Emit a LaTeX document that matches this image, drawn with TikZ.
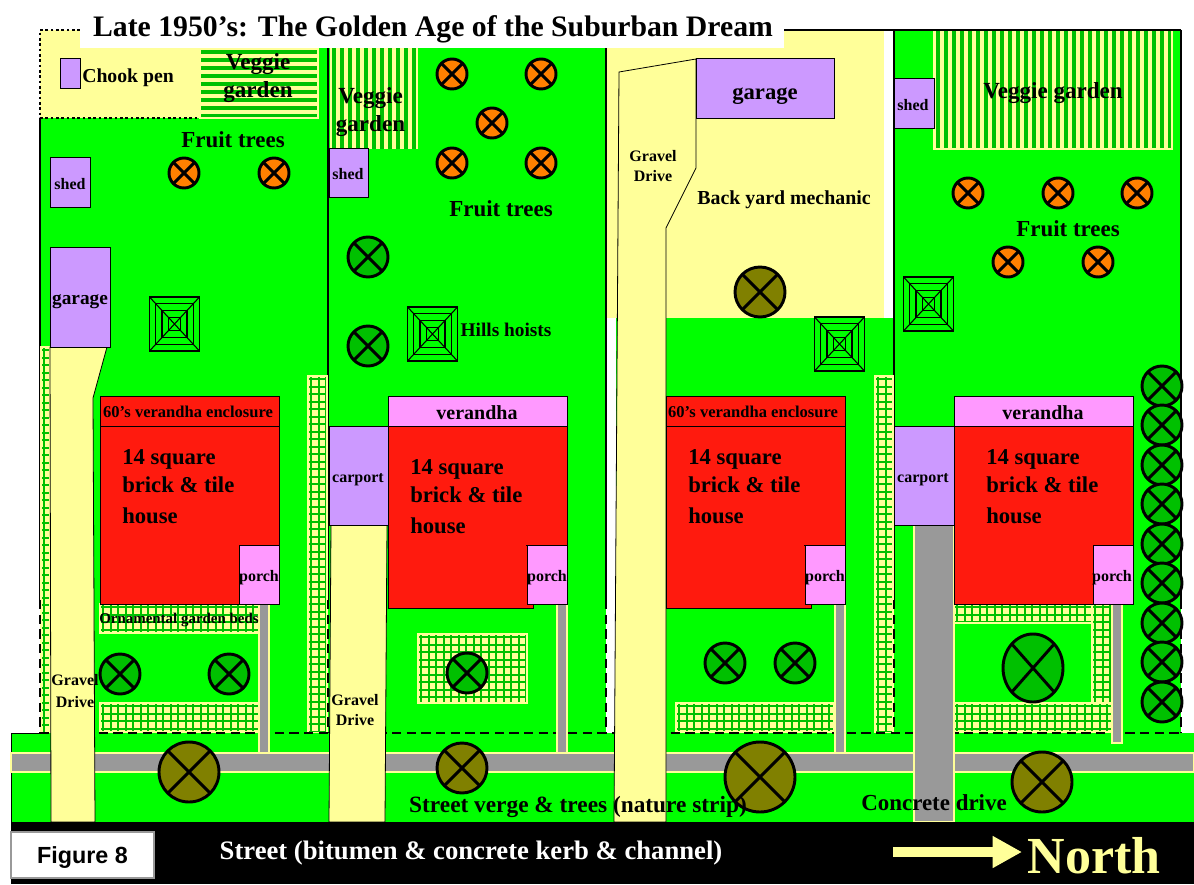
\documentclass[tikz,border=0pt]{standalone}
\usepackage{fontspec}
\setmainfont{Liberation Serif}
\newfontfamily\figfont{Liberation Sans}
\usetikzlibrary{arrows.meta}
\definecolor{lawnG}{RGB}{0,255,0}
\definecolor{treeG}{RGB}{0,192,0}
\definecolor{fruitO}{RGB}{255,128,0}
\definecolor{oakOl}{RGB}{128,128,0}
\definecolor{paleY}{RGB}{255,255,153}
\definecolor{brickR}{RGB}{255,26,14}
\definecolor{shedP}{RGB}{204,153,255}
\definecolor{vergP}{RGB}{255,153,255}
\definecolor{pathG}{RGB}{153,153,153}
\newcommand{\bedgrid}[4]{
  \fill[paleY] (#1,#2) rectangle (#3,#4);
  \begin{scope}
    \clip (#1,#2) rectangle (#3,#4);
    \foreach \gx in {3,10.5,...,200} {\draw[treeG,line width=1.5pt] ({#1+\gx},#2) -- ({#1+\gx},#4);}
    \foreach \gy in {3,10.5,...,380} {\draw[treeG,line width=1.5pt] (#1,{#2+\gy}) -- (#3,{#2+\gy});}
  \end{scope}
  \draw[paleY,line width=0.8pt] (#1,#2) rectangle (#3,#4);
}
\begin{document}
\begin{tikzpicture}[x=0.75pt,y=-0.75pt]
  \tikzset{lbl/.style={font=\bfseries\fontsize{#1}{#1}\selectfont,inner sep=0pt,text=black,align=center}}
  \tikzset{lblL/.style={lbl=#1,anchor=west}}
  \tikzset{hut/.style={draw=black,line width=0.75pt,fill=#1}}
  \tikzset{walk/.style={fill=pathG,draw=paleY,line width=0.8pt}}
  \tikzset{drive/.style={fill=paleY,draw=black,line width=0.6pt}}
  \tikzset{fence/.style={black,line width=2pt}}
  \tikzset{fenceD/.style={black,line width=2pt,dash pattern=on 7pt off 4pt}}
  \useasboundingbox (0,0) rectangle (1194,884);
  \fill[white] (0,0) rectangle (1194,884);
  \fill[lawnG] (40,30) rectangle (606,733);
  \fill[paleY] (606,30) rectangle (884,318);
  \fill[lawnG] (616,318) rectangle (1181,733);
  \fill[lawnG] (894,30) rectangle (1181,733);
  \fill[paleY] (40,30) rectangle (200,118);
  \draw[black,line width=1.8pt,dash pattern=on 2pt off 2pt] (80,30) -- (40,30) -- (40,118) -- (200,118) -- (200,48);
  \begin{scope}
    \clip (200,48) rectangle (318,118);
    \fill[paleY] (200,48) rectangle (318,118);
    \foreach \gy in {52,60,...,116} {\draw[treeG,line width=3pt] (200,\gy) -- (318,\gy);}
  \end{scope}
  \draw[paleY,line width=0.8pt] (200,48) rectangle (318,118);
  \begin{scope}
    \clip (330,48) rectangle (418,149);
    \fill[paleY] (330,48) rectangle (418,149);
    \foreach \gx in {334,342,...,416} {\draw[treeG,line width=3pt] (\gx,48) -- (\gx,149);}
  \end{scope}
  \begin{scope}
    \clip (934,30) rectangle (1172,149);
    \fill[paleY] (934,30) rectangle (1172,149);
    \foreach \gx in {938,946,...,1170} {\draw[treeG,line width=3pt] (\gx,30) -- (\gx,149);}
  \end{scope}
  \draw[paleY,line width=0.8pt] (934,30) rectangle (1172,149);
  \draw[fence] (40,118) -- (40,600);
  \draw[fence] (328,48) -- (328,600);
  \draw[fence] (606,48) -- (606,600);
  \draw[fence] (894,30) -- (894,600);
  \draw[fence] (1181,30) -- (1181,600);
  \draw[fence] (784,30) -- (1181,30);
  \bedgrid{41}{347}{50}{733}
  \bedgrid{308}{376}{327}{733}
  \bedgrid{875}{376}{893}{733}
  \bedgrid{100}{604}{259}{633}
  \bedgrid{100}{703}{259}{732}
  \bedgrid{418}{634}{527}{703}
  \bedgrid{676}{703}{834}{732}
  \bedgrid{954}{604}{1112}{623}
  \bedgrid{1092}{604}{1112}{733}
  \bedgrid{954}{703}{1112}{732}
  \foreach \gx in {40,328,606,894,1181} {\draw[fenceD] (\gx,600) -- (\gx,733);}
  \fill[lawnG] (11,733) rectangle (1194,822);
  \draw[black,line width=0.5pt] (11,822) -- (11,733) -- (40,733);
  \draw[fenceD] (40,733) -- (1181,733);
  \draw[walk] (11,753) rectangle (1194,772);
  \draw[walk] (259,604) rectangle (269,753);
  \draw[walk] (557,604) rectangle (567,753);
  \draw[walk] (835,604) rectangle (845,753);
  \draw[walk] (1112,604) rectangle (1122,743);
  \draw[walk] (914,525) rectangle (954,822);
  \draw[drive] (50,347) -- (107,347) -- (93,398) -- (95,822) -- (51,822) -- cycle;
  \draw[drive] (331,525) -- (387,525) -- (385,822) -- (329,822) -- cycle;
  \draw[drive] (619,72) -- (696,59) -- (696,168) -- (666,228) -- (666,822) -- (614,822) -- cycle;
  \fill[black] (11,822) rectangle (1194,884);
  \draw[hut=shedP] (60,59) rectangle (80,89);
  \draw[hut=shedP] (50,158) rectangle (90,208);
  \draw[hut=shedP] (50,247) rectangle (110,347);
  \draw[hut=shedP] (329,149) rectangle (368,198);
  \draw[hut=shedP] (696,59) rectangle (834,119);
  \draw[hut=shedP] (894,79) rectangle (934,129);
  \draw[hut=shedP] (329,426) rectangle (388,525);
  \draw[hut=shedP] (894,426) rectangle (954,525);
  \foreach \hx/\hxb/\hc in {100/279/brickR,388/567/vergP,666/845/brickR,954/1133/vergP} {
    \draw[hut=brickR] (\hx,426) rectangle (\hxb,604);
    \draw[hut=\hc] (\hx,396) rectangle (\hxb,426);
    \draw[hut=vergP] ({\hxb-40},545) rectangle (\hxb,604);
  }
  \draw[hut=brickR] (388,545) rectangle (533,608);
  \draw[hut=brickR] (666,545) rectangle (811,608);
  \fill[brickR] (389,540) rectangle (526,607);
  \fill[brickR] (667,540) rectangle (804,607);
  \draw[hut=vergP] (527,545) rectangle (567,604);
  \draw[hut=vergP] (805,545) rectangle (845,604);
  \foreach \hx/\hy in {174.5/324,432.5/334,839.5/344,928.5/304} {
    \foreach \hs in {1,0.75,0.5,0.25} {
      \draw[black,line width=0.8pt] ({\hx-25*\hs},{\hy-27*\hs}) rectangle ({\hx+25*\hs},{\hy+27*\hs});
    }
    \draw[black,line width=0.8pt] (\hx-25,\hy-27) -- (\hx+25,\hy+27);
    \draw[black,line width=0.8pt] (\hx-25,\hy+27) -- (\hx+25,\hy-27);
  }
  \node[lbl=12] (driveA) at (75,691) {Gravel\\[4pt]Drive};
  \foreach \tx/\ty/\rx/\ry/\tc in {
    184/173/15/15/fruitO,274/173/15/15/fruitO,
    452/74/15/15/fruitO,541/74/15/15/fruitO,492/123/15/15/fruitO,452/163/15/15/fruitO,541/163/15/15/fruitO,
    968/193/15/15/fruitO,1058/193/15/15/fruitO,1137/193/15/15/fruitO,1008/262/15/15/fruitO,1098/262/15/15/fruitO,
    368/257/20/20/treeG,368/346/20/20/treeG,120/674/20/20/treeG,229/674/20/20/treeG,467/673/20/20/treeG,
    725/663/20/20/treeG,795/663/20/20/treeG,1033/668/30/34/treeG,
    1162/386/20/20/treeG,1162/425/20/20/treeG,1162/465/20/20/treeG,1162/504/20/20/treeG,1162/544/20/20/treeG,
    1162/583/20/20/treeG,1162/623/20/20/treeG,1162/662/20/20/treeG,1162/702/20/20/treeG,
    189/772/30/30/oakOl,462/768/25/25/oakOl,760/777/35/35/oakOl,1042/782/30/30/oakOl,760/292/25/25/oakOl} {
    \draw[black,line width=2.2pt,fill=\tc] (\tx,\ty) ellipse [x radius=\rx,y radius=\ry];
    \draw[black,line width=2.2pt] ({\tx-0.72*\rx},{\ty-0.72*\ry}) -- ({\tx+0.72*\rx},{\ty+0.72*\ry});
    \draw[black,line width=2.2pt] ({\tx-0.72*\rx},{\ty+0.72*\ry}) -- ({\tx+0.72*\rx},{\ty-0.72*\ry});
  }
  \fill[white] (80,4) rectangle (784,48);
  \node[lbl=22.3] (title) at (433,29) {Late 1950’s: The Golden Age of the Suburban Dream};
  \node[lblL=14.8] (chook) at (82,78) {Chook pen};
  \node[lbl=17.3] (vegA) at (258,78) {Veggie\\[4pt]garden};
  \node[lbl=17.3] (vegB) at (370.5,112) {Veggie\\[4pt]garden};
  \node[lbl=17.3] (vegC) at (1053,93) {Veggie garden};
  \node[lbl=17.2] (fruitA) at (233,140) {Fruit trees};
  \node[lbl=17.2] (fruitB) at (501,209) {Fruit trees};
  \node[lbl=17.2] (fruitC) at (1068,229) {Fruit trees};
  \node[lbl=12] (shedA) at (70,184) {shed};
  \node[lbl=12] (shedB) at (348,174) {shed};
  \node[lbl=12] (shedC) at (913,105) {shed};
  \node[lbl=14.5] (garageA) at (80,302) {garage};
  \node[lbl=17] (garageB) at (765,96) {garage};
  \node[lbl=14.5] (hoists) at (506,330) {Hills hoists};
  \node[lbl=14.9] (mech) at (784,200) {Back yard mechanic};
  \node[lbl=12] (driveB) at (355,710) {Gravel\\[3pt]Drive};
  \node[lbl=12] (driveC) at (653,166) {Gravel\\[3pt]Drive};
  \node[lbl=12.4] (enclA) at (188,412) {60’s verandha enclosure};
  \node[lbl=12.4] (enclB) at (753,412) {60’s verandha enclosure};
  \node[lbl=15] (verA) at (477,413) {verandha};
  \node[lbl=15] (verB) at (1043,413) {verandha};
  \node[lbl=12] (carA) at (358,480) {carport};
  \node[lbl=12] (carB) at (923,480) {carport};
  \foreach \hn/\hx/\hy in {A/122/457,B/410/467,C/688/457,D/986/457} {
    \node[lblL=17] (sq\hn) at (\hx,\hy+2) {14 square};
    \node[lblL=17] (bt\hn) at (\hx,\hy+28) {brick \& tile};
    \node[lblL=17] (ho\hn) at (\hx,\hy+59) {house};
  }
  \foreach \hn/\hx in {A/259,B/547,C/825,D/1112} {
    \node[lbl=12] (po\hn) at (\hx,578) {porch};
  }
  \node[lbl=11.2] (beds) at (179,620) {Ornamental garden beds};
  \node[lbl=17.5] (verge) at (578,807) {Street verge \& trees (nature strip)};
  \node[lbl=17.2] (conc) at (934,803) {Concrete drive};
  \node[lbl=20,text=white] (street) at (471,853) {Street (bitumen \& concrete kerb \& channel)};
  \draw[pathG,line width=0.9pt,fill=white] (11,832) rectangle (154,878);
  \node[font=\figfont\bfseries\fontsize{17.5}{17.5}\selectfont,inner sep=0pt] (fig) at (82.5,858) {Figure 8};
  \node[lbl=39,text=paleY] (north) at (1094,856) {North};
  \coordinate (arrowS) at (893,852);
  \coordinate (arrowE) at (1022,852);
  \draw[-{Triangle[length=22pt,width=22.5pt]},paleY,line width=7.5pt] (arrowS) -- (arrowE);
\end{tikzpicture}
\end{document}
